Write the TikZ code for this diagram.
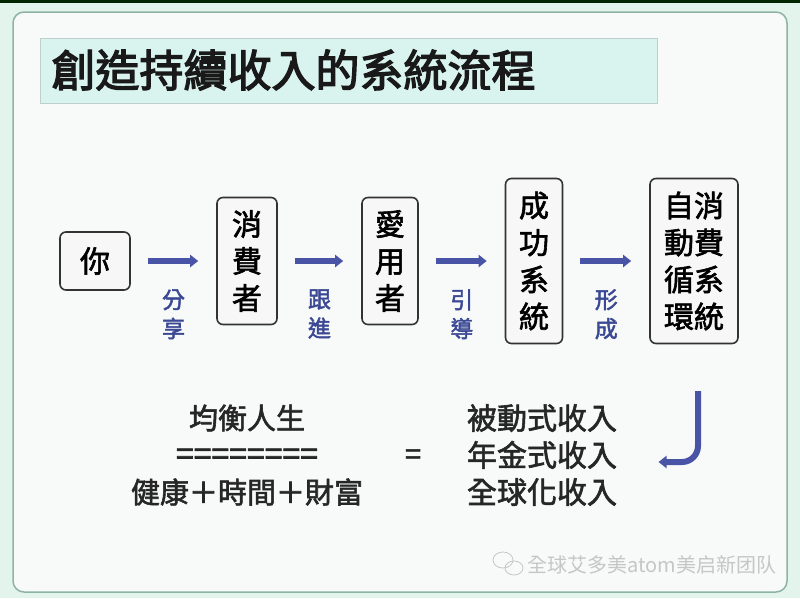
\documentclass[tikz,border=0pt]{standalone}
\usepackage{fontspec}
\setmainfont{Noto Sans CJK TC}
\newfontfamily\medfont{Noto Sans CJK TC}[FakeBold=2]
\newfontfamily\headfont{Noto Sans CJK TC}[FakeBold=3]
\usetikzlibrary{arrows.meta,positioning}

\definecolor{mintbg}{HTML}{E2F4EC}
\definecolor{panelbg}{HTML}{F7FAF8}
\definecolor{panelline}{HTML}{8EB2A6}
\definecolor{titlefill}{HTML}{D9F3EE}
\definecolor{flowblue}{HTML}{4A54A6}
\definecolor{labelblue}{HTML}{3B4894}

\begin{document}
\begin{tikzpicture}[x=1pt, y=-1pt,
		box/.style={draw=black!80, line width=1.6pt, rounded corners=6pt, fill=white!97!black, align=center, inner sep=0pt, font=\fontsize{30}{37}\medfont},
		flowarrow/.style={draw=flowblue, line width=6pt, -{Triangle[length=8pt, width=12pt]}, shorten <=17pt, shorten >=18pt},
		steplabel/.style={text=labelblue, align=center, font=\fontsize{23}{29}\medfont},
		rowtext/.style={text=black!85, align=center, font=\fontsize{29}{37}\medfont}
	]

		% page and panel
		\fill[mintbg] (0,0) rectangle (800,598);
		\fill[black!85!green] (0,0) rectangle (800,3);
		\draw[panelline, line width=1.5pt, fill=panelbg, rounded corners=11pt] (13,12) rectangle (787,592);
		\useasboundingbox (0,0) rectangle (800,598);

		% Title
		\draw[titlefill!70!gray, fill=titlefill] (40,38) rectangle (657,103);
		\node[anchor=west, text=black!90, font=\fontsize{44}{50}\headfont] (title) at (48,70) {創造持續收入的系統流程};

		% flow boxes
		\node[box, minimum width=70pt, minimum height=58pt] (you) at (95,261) {你};
		\node[box, minimum width=60pt, minimum height=127pt] (consumer) at (247,261) {消\\費\\者};
		\node[box, minimum width=56pt, minimum height=127pt] (fan) at (390,261) {愛\\用\\者};
		\node[box, minimum width=57pt, minimum height=165pt] (success) at (534,261) {成\\功\\系\\統};
		\node[box, minimum width=88pt, minimum height=165pt] (cycle) at (694,261) {自消\\動費\\循系\\環統};

		% arrows with their labels underneath
		\foreach \a/\b/\lbl in {you/consumer/分\\享, consumer/fan/跟\\進, fan/success/引\\導, success/cycle/形\\成}
			\draw[flowarrow] (\a.east) -- (\b.west)
				node[steplabel, midway, below=22pt] {\lbl};

		% bottom part
		\node[rowtext] (life) at (247,418) {均衡人生};
		\node[rowtext, font=\fontsize{32}{37}\medfont] (bar) at (247,457) {========};
		\node[rowtext] (parts) at (247,492) {健康＋時間＋財富};
		\node[rowtext] (equal) at (413,457) {=};
		\node[rowtext, font=\fontsize{30}{37}\medfont] (income) at (542,455) {被動式收入\\年金式收入\\全球化收入};

		% return arrow
		\coordinate (jtop) at (698,391);
		\draw[flowarrow, shorten <=0pt, shorten >=38pt, rounded corners=16pt] (jtop) |- ([yshift=-7pt]income.east);

		% watermark
		\draw[gray!45, line width=0.8pt] (503,560) ellipse (10pt and 8pt);
		\draw[gray!45, line width=0.8pt] (514,568) ellipse (9pt and 7pt);
		\node[anchor=west, text=gray!45, font=\fontsize{20}{24}\selectfont] (mark) at (524,565) {全球艾多美atom美启新团队};

	\end{tikzpicture}
\end{document}
